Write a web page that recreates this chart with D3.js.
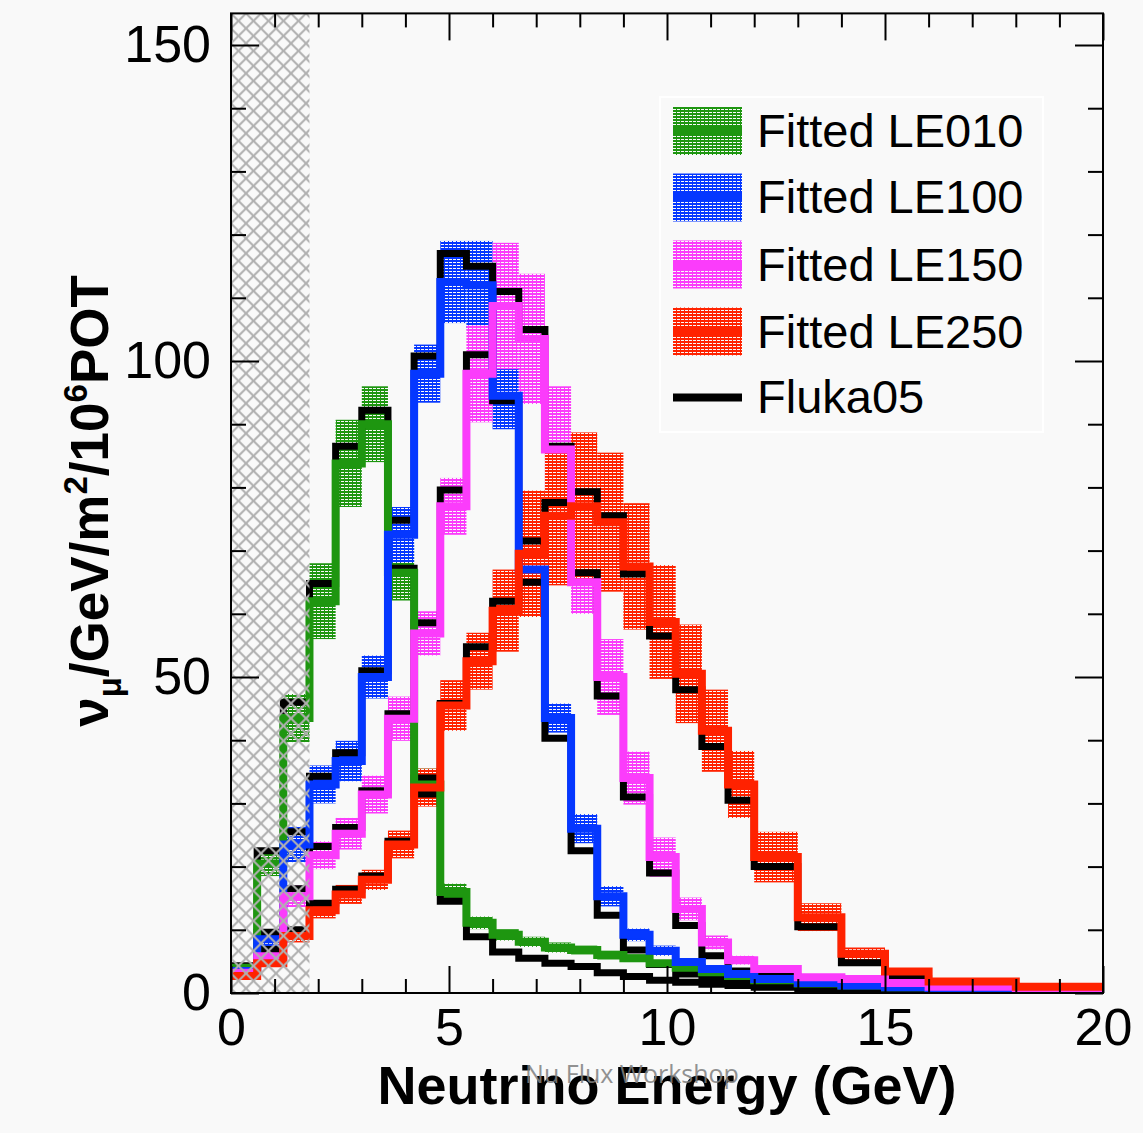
<!DOCTYPE html>
<html><head><meta charset="utf-8">
<script src="https://cdn.jsdelivr.net/npm/d3@7"></script>
<style>html,body{margin:0;padding:0;background:#f9f9f9}</style>
</head><body>
<svg id="chart" width="1143" height="1133"></svg>
<script>
// ---- data ----
const binEdges = [0,0.6,1.2,1.8,2.4,3.0,3.6,4.2,4.8,5.4,6.0,6.6,7.2,7.8,8.4,9.0,9.6,10.2,10.8,11.4,12,13,14,15,16,18,20];
const seriesNames = ["Fitted LE010","Fitted LE100","Fitted LE150","Fitted LE250"];
const flukaName = "Fluka05";

const le010      = [4.0,20.5,43.5,62,83.8,90,66.5,33,16,11.1,9.2,8.1,7.2,6.8,6.0,5.5,4.7,4.0,3.3,2.7,2.0,1.5,1.2,0.9,0.6,0.4];
const le010Err   = [0.4,2.0,3.8,6.0,6.9,6.0,4.4,2.5,1.3,1.0,0.9,0.8,0.8,0.7,0.7,0.6,0.5,0.4,0.4,0.3,0.3,0.2,0.2,0.1,0.1,0.1];
const le010Fluka = [4.3,22.5,46,64.8,86.5,92.2,67.2,31.5,14.5,8.9,6.5,5.5,4.7,4.2,3.2,2.6,2.0,1.7,1.4,1.2,0.9,0.7,0.5,0.4,0.3,0.2];

const le100      = [3.5,8.5,23.5,33,36.7,50,72.5,98,112.5,112,94.5,67,43.5,26,15.3,9.2,6.7,4.9,3.8,3.0,2.2,1.6,1.2,0.9,0.6,0.4];
const le100Err   = [0.4,1.2,2.8,3.0,3.2,3.4,4.4,4.6,6.5,7.0,5.3,4.8,2.3,2.3,1.6,1.0,0.8,0.6,0.5,0.4,0.3,0.2,0.2,0.1,0.1,0.1];
const le100Fluka = [3.8,9.6,25.5,34.3,38,51,74.8,100.8,117,115,93.7,65,40.3,22.5,12.3,6.8,4.5,3.0,2.3,1.8,1.3,1.0,0.7,0.5,0.4,0.3];

const le150      = [3.2,5.8,15.3,21.8,25.2,31.4,43.4,56.9,77,98,108.7,103.5,86,65,50,34,21.5,13.3,8.0,5.2,3.8,2.5,2.2,1.6,1.0,0.6];
const le150Err   = [0.3,0.8,1.7,2.2,2.5,3.0,3.5,3.5,4.5,7.7,10,10.3,10,5,6,4.2,3.1,1.8,1.1,0.7,0.5,0.3,0.3,0.2,0.1,0.1];
const le150Fluka = [3.4,6.9,16.5,23.2,26.2,32,44.2,58.6,79.6,101,111,105,86.5,66.5,47,31,19,10.7,5.9,3.5,2.6,1.8,1.3,0.9,0.6,0.4];

const le250      = [2.7,4.7,9.0,13.1,15.6,17.9,23.5,32.5,45.5,52.5,60.5,69.5,75.5,77,74.5,67.5,58.7,50.5,41.5,33,21.5,12,6.2,3.4,1.8,1.0];
const le250Err   = [0.3,0.5,1.0,1.3,1.5,1.6,2.2,3.0,4.0,4.5,6.5,10,11,11.7,11,10,9,7.8,6.5,5.3,4.0,2.2,1.0,0.5,0.3,0.2];
const le250Fluka = [3.0,5.0,10,14.2,16.4,18.5,24,34,45.8,54.8,62,71.5,77.6,79.3,75.5,66.3,56.5,48,39,30.5,20,10.5,4.8,2.3,1.1,0.6];

const xMajorTicks = [0,5,10,15,20];
const xMinorTicks = [1,2,3,4,6,7,8,9,11,12,13,14,16,17,18,19];
const yMajorTicks = [0,50,100,150];
const yMinorTicks = [10,20,30,40,60,70,80,90,110,120,130,140];
const excludedRange = [0,1.8];

// ---- setup ----
const colors = ["#1e9610","#0537ff","#fb3cfb","#ff2200"];
const fitted = [le010,le100,le150,le250];
const errs = [le010Err,le100Err,le150Err,le250Err];
const flukas = [le010Fluka,le100Fluka,le150Fluka,le250Fluka];

const W=1143,H=1133;
const L=231,R=1103,T=13.4,B=993;
const x = d3.scaleLinear().domain([0,20]).range([L,R]);
const y = d3.scaleLinear().domain([0,155]).range([B,T]);
const svg = d3.select("#chart");
const font = "'Liberation Sans', Arial, Helvetica, sans-serif";

svg.append("rect").attr("width",W).attr("height",H).attr("fill","#f9f9f9");

const defs = svg.append("defs");
colors.forEach((c,i)=>{
  const p = defs.append("pattern").attr("id","band"+i).attr("patternUnits","userSpaceOnUse")
    .attr("width",4).attr("height",3);
  p.append("path").attr("d","M0,0.5H4M0,2.5H4").attr("stroke",c).attr("stroke-width",1.1);
  p.append("path").attr("d","M0.5,0V3").attr("stroke",c).attr("stroke-width",1);
});
const hp = defs.append("pattern").attr("id","excl").attr("patternUnits","userSpaceOnUse")
  .attr("width",15).attr("height",15).attr("x",L).attr("y",T);
hp.append("path").attr("d","M0,0L15,15M15,0L0,15M-1,14L1,16M14,-1L16,1M14,16L16,14M-1,1L1,-1")
  .attr("stroke","#b0b0b0").attr("stroke-width",2).attr("fill","none");
defs.append("clipPath").attr("id","plotclip").append("rect")
  .attr("x",L).attr("y",T).attr("width",R-L).attr("height",B-T);

const plot = svg.append("g").attr("clip-path","url(#plotclip)");

const stepLine = d3.line().x(d=>x(d[0])).y(d=>y(d[1])).curve(d3.curveStepAfter);
function pts(vals){
  const p = vals.map((v,i)=>[binEdges[i],v]);
  p.push([binEdges[binEdges.length-1], vals[vals.length-1]]);
  return p;
}
const bins = d3.range(binEdges.length-1);

// bands
fitted.forEach((vals,s)=>{
  plot.append("g").selectAll("rect").data(bins).join("rect")
    .attr("x",i=>x(binEdges[i])).attr("width",i=>x(binEdges[i+1])-x(binEdges[i]))
    .attr("y",i=>y(vals[i]+errs[s][i]))
    .attr("height",i=>y(vals[i]-errs[s][i])-y(vals[i]+errs[s][i]))
    .attr("fill",`url(#band${s})`);
});
// fluka (black) lines
flukas.forEach(vals=>{
  plot.append("path").attr("d",stepLine(pts(vals))).attr("fill","none")
    .attr("stroke","#000").attr("stroke-width",7).attr("stroke-linejoin","miter");
});
// fitted lines
fitted.forEach((vals,s)=>{
  plot.append("path").attr("d",stepLine(pts(vals))).attr("fill","none")
    .attr("stroke",colors[s]).attr("stroke-width",8).attr("stroke-linejoin","miter");
});
// excluded region hatch
plot.append("rect").attr("x",x(excludedRange[0])).attr("y",T)
  .attr("width",x(excludedRange[1])-x(excludedRange[0])).attr("height",B-T)
  .attr("fill","url(#excl)");

// ---- axes ----
function styleAxis(g){
  g.select(".domain").remove();
  g.selectAll("line").attr("stroke","#000").attr("stroke-width",2);
  g.selectAll("text").attr("font-family",font).attr("font-size",52).attr("fill","#000");
}
svg.append("g").attr("transform",`translate(0,${B})`)
  .call(d3.axisBottom(x).tickValues(xMajorTicks).tickSize(-27).tickPadding(15).tickFormat(d3.format("d")))
  .call(styleAxis);
svg.append("g").attr("transform",`translate(0,${B})`)
  .call(d3.axisBottom(x).tickValues(xMinorTicks).tickSize(-14).tickFormat(""))
  .call(styleAxis);
svg.append("g").attr("transform",`translate(0,${T})`)
  .call(d3.axisTop(x).tickValues(xMajorTicks).tickSize(-27).tickFormat(""))
  .call(styleAxis);
svg.append("g").attr("transform",`translate(0,${T})`)
  .call(d3.axisTop(x).tickValues(xMinorTicks).tickSize(-14).tickFormat(""))
  .call(styleAxis);
svg.append("g").attr("transform",`translate(${L},0)`)
  .call(d3.axisLeft(y).tickValues(yMajorTicks).tickSize(-28).tickPadding(20).tickFormat(d3.format("d")))
  .call(styleAxis);
svg.append("g").attr("transform",`translate(${L},0)`)
  .call(d3.axisLeft(y).tickValues(yMinorTicks).tickSize(-15).tickFormat(""))
  .call(styleAxis);
svg.append("g").attr("transform",`translate(${R},0)`)
  .call(d3.axisRight(y).tickValues(yMajorTicks).tickSize(-28).tickFormat(""))
  .call(styleAxis);
svg.append("g").attr("transform",`translate(${R},0)`)
  .call(d3.axisRight(y).tickValues(yMinorTicks).tickSize(-15).tickFormat(""))
  .call(styleAxis);
svg.append("rect").attr("x",L).attr("y",T).attr("width",R-L).attr("height",B-T)
  .attr("fill","none").attr("stroke","#000").attr("stroke-width",2);

// axis titles
svg.append("text").attr("x",(L+R)/2).attr("y",1104).attr("text-anchor","middle")
  .attr("font-family",font).attr("font-weight","bold").attr("font-size",54)
  .text("Neutrino Energy (GeV)");
const yt = svg.append("text").attr("transform","translate(108,501) rotate(-90)")
  .attr("text-anchor","middle").attr("font-family",font).attr("font-weight","bold").attr("font-size",53);
yt.append("tspan").text("ν");
yt.append("tspan").attr("dy",13).attr("font-size",33).text("μ");
yt.append("tspan").attr("dy",-13).text("/GeV/m");
yt.append("tspan").attr("dy",-21).attr("font-size",33).text("2");
yt.append("tspan").attr("dy",21).text("/10");
yt.append("tspan").attr("dy",-21).attr("font-size",33).text("6");
yt.append("tspan").attr("dy",21).text("POT");

// ---- legend ----
const lg = svg.append("g");
lg.append("rect").attr("x",660).attr("y",97).attr("width",383).attr("height",335)
  .attr("fill","#f9f9f9").attr("stroke","#ffffff").attr("stroke-width",2);
const legY = [131,197.5,264.5,331.5];
const legBase = [147,213,281,348];
seriesNames.forEach((name,i)=>{
  lg.append("rect").attr("x",673).attr("y",legY[i]-24).attr("width",69).attr("height",48)
    .attr("fill",`url(#band${i})`);
  lg.append("line").attr("x1",673).attr("x2",742).attr("y1",legY[i]).attr("y2",legY[i])
    .attr("stroke",colors[i]).attr("stroke-width",9);
  lg.append("text").attr("x",757).attr("y",legBase[i]).attr("font-family",font)
    .attr("font-size",47).text(name);
});
lg.append("line").attr("x1",673).attr("x2",742).attr("y1",397.5).attr("y2",397.5)
  .attr("stroke","#000").attr("stroke-width",8);
lg.append("text").attr("x",757).attr("y",413).attr("font-family",font)
  .attr("font-size",47).text(flukaName);

// watermark
svg.append("text").attr("x",632).attr("y",1083).attr("text-anchor","middle")
  .attr("font-family","'Open Sans', sans-serif").attr("font-size",25)
  .attr("fill","#808080").attr("opacity",0.85).text("Nu Flux Workshop");
</script>
</body></html>
